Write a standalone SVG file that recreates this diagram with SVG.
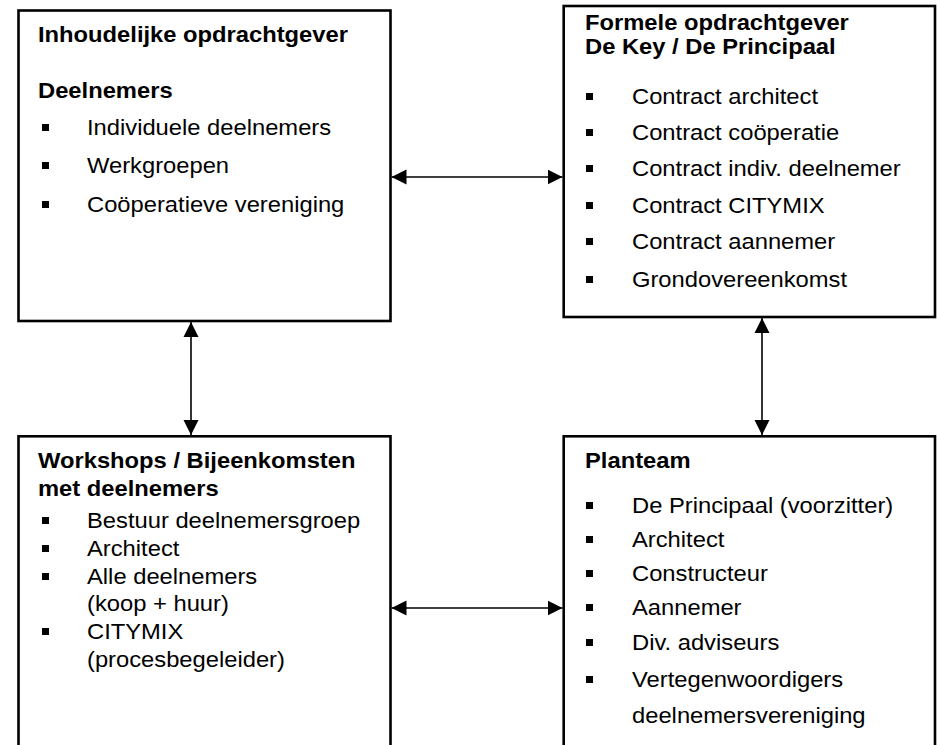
<svg xmlns="http://www.w3.org/2000/svg" width="937" height="745" viewBox="0 0 937 745">
<defs>
<style>
.box{fill:#fff;stroke:#000;stroke-width:2.6}
.t{font-family:"Liberation Sans",Arial,sans-serif;font-size:22px;fill:#000}
.b{font-weight:bold}
.bul{fill:#000}
.conn{stroke:#000;stroke-width:1.6;fill:none;marker-start:url(#ah);marker-end:url(#ah)}
</style>
<marker id="ah" viewBox="0 0 15 16" refX="15" refY="8" markerWidth="15" markerHeight="16" markerUnits="userSpaceOnUse" orient="auto-start-reverse">
<path d="M0,0.5 L15,8 L0,15.5 Z" fill="#000"/>
</marker>
</defs>
<rect width="937" height="745" fill="#fff"/>

<g id="inhoudelijke">
<rect class="box" x="18.5" y="10.5" width="372" height="310.5"/>
<text class="t b" transform="translate(38 42) scale(1.08 1)">Inhoudelijke opdrachtgever</text>
<text class="t b" transform="translate(38 98) scale(1.08 1)">Deelnemers</text>
<rect class="bul" x="42" y="124" width="7" height="7"/>
<text class="t" transform="translate(87 135) scale(1.08 1)">Individuele deelnemers</text>
<rect class="bul" x="42" y="162" width="7" height="7"/>
<text class="t" transform="translate(87 173) scale(1.08 1)">Werkgroepen</text>
<rect class="bul" x="42" y="201" width="7" height="7"/>
<text class="t" transform="translate(87 212) scale(1.08 1)">Coöperatieve vereniging</text>
</g>

<g id="formele">
<rect class="box" x="563.7" y="6" width="371.3" height="311"/>
<text class="t b" transform="translate(585 30) scale(1.08 1)">Formele opdrachtgever</text>
<text class="t b" transform="translate(585 54) scale(1.08 1)">De Key / De Principaal</text>
<rect class="bul" x="586" y="93" width="7" height="7"/>
<text class="t" transform="translate(632 104) scale(1.08 1)">Contract architect</text>
<rect class="bul" x="586" y="129" width="7" height="7"/>
<text class="t" transform="translate(632 140) scale(1.08 1)">Contract coöperatie</text>
<rect class="bul" x="586" y="165" width="7" height="7"/>
<text class="t" transform="translate(632 176) scale(1.08 1)">Contract indiv. deelnemer</text>
<rect class="bul" x="586" y="202" width="7" height="7"/>
<text class="t" transform="translate(632 213) scale(1.08 1)">Contract CITYMIX</text>
<rect class="bul" x="586" y="238" width="7" height="7"/>
<text class="t" transform="translate(632 249) scale(1.08 1)">Contract aannemer</text>
<rect class="bul" x="586" y="276" width="7" height="7"/>
<text class="t" transform="translate(632 287) scale(1.08 1)">Grondovereenkomst</text>
</g>

<g id="workshops">
<rect class="box" x="18.5" y="436.3" width="372" height="330"/>
<text class="t b" transform="translate(38 468) scale(1.08 1)">Workshops / Bijeenkomsten</text>
<text class="t b" transform="translate(38 496) scale(1.08 1)">met deelnemers</text>
<rect class="bul" x="42" y="517" width="7" height="7"/>
<text class="t" transform="translate(87 528) scale(1.08 1)">Bestuur deelnemersgroep</text>
<rect class="bul" x="42" y="545" width="7" height="7"/>
<text class="t" transform="translate(87 556) scale(1.08 1)">Architect</text>
<rect class="bul" x="42" y="573" width="7" height="7"/>
<text class="t" transform="translate(87 584) scale(1.08 1)">Alle deelnemers</text>
<text class="t" transform="translate(87 611) scale(1.08 1)">(koop + huur)</text>
<rect class="bul" x="42" y="628" width="7" height="7"/>
<text class="t" transform="translate(87 639) scale(1.08 1)">CITYMIX</text>
<text class="t" transform="translate(87 667) scale(1.08 1)">(procesbegeleider)</text>
</g>

<g id="planteam">
<rect class="box" x="563.7" y="436.3" width="371.3" height="330"/>
<text class="t b" transform="translate(585 468) scale(1.08 1)">Planteam</text>
<rect class="bul" x="586" y="502" width="7" height="7"/>
<text class="t" transform="translate(632 513) scale(1.08 1)">De Principaal (voorzitter)</text>
<rect class="bul" x="586" y="536" width="7" height="7"/>
<text class="t" transform="translate(632 547) scale(1.08 1)">Architect</text>
<rect class="bul" x="586" y="570" width="7" height="7"/>
<text class="t" transform="translate(632 581) scale(1.08 1)">Constructeur</text>
<rect class="bul" x="586" y="604" width="7" height="7"/>
<text class="t" transform="translate(632 615) scale(1.08 1)">Aannemer</text>
<rect class="bul" x="586" y="639" width="7" height="7"/>
<text class="t" transform="translate(632 650) scale(1.08 1)">Div. adviseurs</text>
<rect class="bul" x="586" y="676" width="7" height="7"/>
<text class="t" transform="translate(632 687) scale(1.08 1)">Vertegenwoordigers</text>
<text class="t" transform="translate(632 723) scale(1.08 1)">deelnemersvereniging</text>
</g>

<g id="connectors">
<line class="conn" x1="391.5" y1="177" x2="562.5" y2="177"/>
<line class="conn" x1="191" y1="322" x2="191" y2="435"/>
<line class="conn" x1="762" y1="318" x2="762" y2="435"/>
<line class="conn" x1="391.5" y1="608" x2="562.5" y2="608"/>
</g>
</svg>
